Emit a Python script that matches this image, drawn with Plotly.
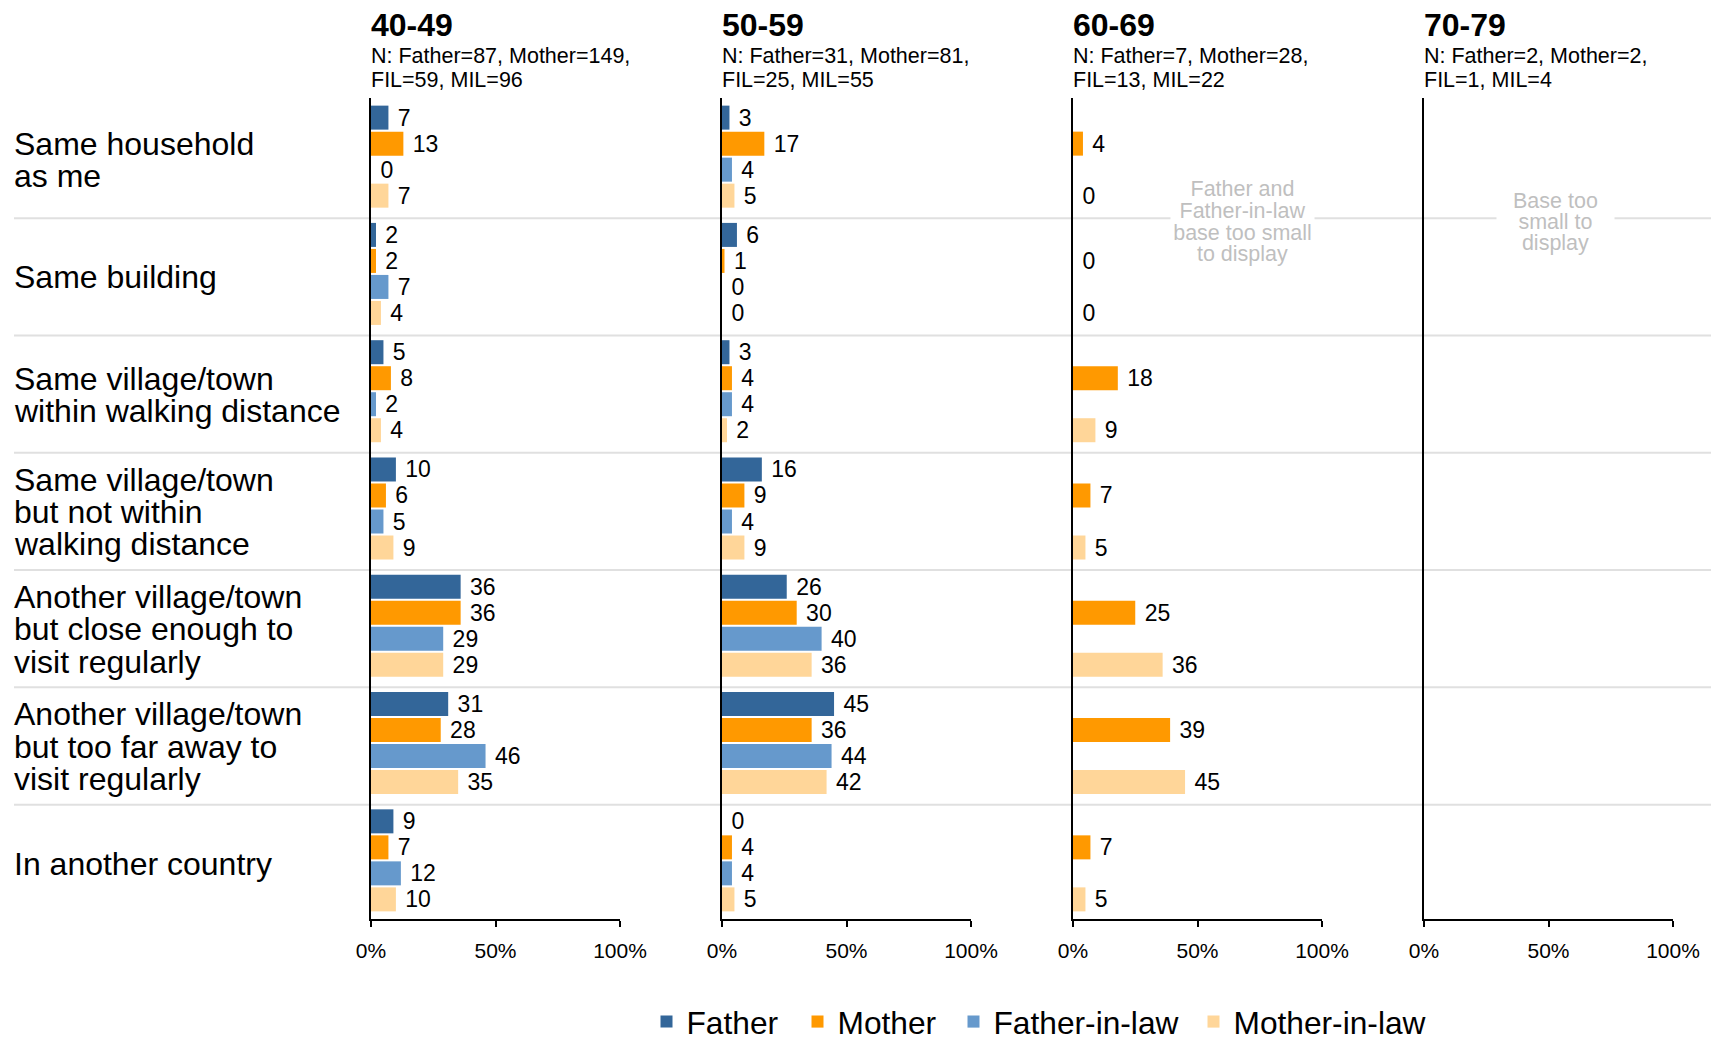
import plotly.graph_objects as go

# ---------------- data ----------------
categories = [
    "Same household<br>as me",
    "Same building",
    "Same village/town<br>within walking distance",
    "Same village/town<br>but not within<br>walking distance",
    "Another village/town<br>but close enough to<br>visit regularly",
    "Another village/town<br>but too far away to<br>visit regularly",
    "In another country",
]
series_names = ["Father", "Mother", "Father-in-law", "Mother-in-law"]
series_colors = ["#336699", "#FF9900", "#6699CC", "#FFD699"]

age_groups = ["40-49", "50-59", "60-69", "70-79"]
n_line1 = ["N: Father=87, Mother=149,", "N: Father=31, Mother=81,",
           "N: Father=7, Mother=28,", "N: Father=2, Mother=2,"]
n_line2 = ["FIL=59, MIL=96", "FIL=25, MIL=55", "FIL=13, MIL=22", "FIL=1, MIL=4"]

father_40_49 = [7, 2, 5, 10, 36, 31, 9]
mother_40_49 = [13, 2, 8, 6, 36, 28, 7]
fil_40_49 = [0, 7, 2, 5, 29, 46, 12]
mil_40_49 = [7, 4, 4, 9, 29, 35, 10]

father_50_59 = [3, 6, 3, 16, 26, 45, 0]
mother_50_59 = [17, 1, 4, 9, 30, 36, 4]
fil_50_59 = [4, 0, 4, 4, 40, 44, 4]
mil_50_59 = [5, 0, 2, 9, 36, 42, 5]

father_60_69 = [None, None, None, None, None, None, None]
mother_60_69 = [4, 0, 18, 7, 25, 39, 7]
fil_60_69 = [None, None, None, None, None, None, None]
mil_60_69 = [0, 0, 9, 5, 36, 45, 5]

father_70_79 = [None, None, None, None, None, None, None]
mother_70_79 = [None, None, None, None, None, None, None]
fil_70_79 = [None, None, None, None, None, None, None]
mil_70_79 = [None, None, None, None, None, None, None]

panel_values = [
    [father_40_49, mother_40_49, fil_40_49, mil_40_49],
    [father_50_59, mother_50_59, fil_50_59, mil_50_59],
    [father_60_69, mother_60_69, fil_60_69, mil_60_69],
    [father_70_79, mother_70_79, fil_70_79, mil_70_79],
]

note_60_69 = ["Father and", "Father-in-law", "base too small", "to display"]
note_70_79 = ["Base too", "small to", "display"]

x_tick_vals = [0, 50, 100]
x_tick_text = ["0%", "50%", "100%"]

# ---------------- layout geometry (figure pixel coords) ----------------
W, H = 1719, 1039
L, R, T, B = 363, 54, 90, 128
PW = W - L - R
PH = H - T - B
PANEL_W = 249
PANEL_STEP = 351

FONT = "Liberation Sans, Arial, Helvetica, sans-serif"


def px_x(px):
    return (px - L) / PW


fig = go.Figure()

legend_widths = [106, 111, 195, 190]

for p, vals in enumerate(panel_values):
    for s, name in enumerate(series_names):
        labels = ["" if v is None else str(v) for v in vals[s]]
        fig.add_trace(go.Bar(
            x=vals[s],
            y=categories,
            orientation="h",
            name=name,
            legendgroup=name,
            showlegend=(p == 0),
            legendwidth=legend_widths[s],
            marker=dict(color=series_colors[s], line=dict(width=0)),
            text=labels,
            texttemplate=" %{text}",
            textposition="outside",
            constraintext="none",
            cliponaxis=False,
            outsidetextfont=dict(size=23, color="black", family=FONT),
            xaxis="x" if p == 0 else f"x{p+1}",
            yaxis="y" if p == 0 else f"y{p+1}",
            hoverinfo="skip",
        ))

layout_axes = {}
for p in range(4):
    x0 = p * PANEL_STEP / PW
    x1 = (p * PANEL_STEP + PANEL_W) / PW
    xk = "xaxis" if p == 0 else f"xaxis{p+1}"
    yk = "yaxis" if p == 0 else f"yaxis{p+1}"
    ya = "y" if p == 0 else f"y{p+1}"
    xa = "x" if p == 0 else f"x{p+1}"
    layout_axes[xk] = dict(
        domain=[x0, x1], anchor=ya, range=[0, 100],
        tickmode="array", tickvals=x_tick_vals, ticktext=x_tick_text,
        showline=True, linecolor="black", linewidth=1.6,
        ticks="outside", ticklen=6, tickwidth=1.6, tickcolor="black",
        showgrid=False, zeroline=False,
        tickfont=dict(size=21, color="black", family=FONT),
        ticklabelstandoff=6,
        fixedrange=True,
    )
    layout_axes[yk] = dict(
        domain=[0, 1], anchor=xa, type="category",
        categoryorder="array", categoryarray=categories,
        range=[len(categories) - 0.5, -0.5],
        showline=True, linecolor="black", linewidth=1.6,
        showticklabels=False, ticks="", showgrid=False, zeroline=False,
        fixedrange=True,
    )

annotations = []

# row labels (category names), one line per annotation for tight line spacing
ROW_LINE = 32.3
for cat in categories:
    lines = cat.split("<br>")
    n = len(lines)
    for j, line in enumerate(lines):
        annotations.append(dict(
            text=line, xref="paper", x=px_x(3.5), xanchor="left",
            yref="y", y=cat, yanchor="middle",
            yshift=-(j - (n - 1) / 2) * ROW_LINE - 3.5,
            showarrow=False, align="left",
            font=dict(size=32, color="black", family=FONT),
        ))

# panel titles and N lines
for p, age in enumerate(age_groups):
    xa = "x" if p == 0 else f"x{p+1}"
    annotations.append(dict(
        text=f"<b>{age}</b>", xref=xa, x=0, xanchor="left", xshift=-2,
        yref="paper", y=1, yanchor="middle", yshift=72.8,
        showarrow=False, font=dict(size=32, color="black", family=FONT),
    ))
    for txt, ys in ((n_line1[p], 42.1), (n_line2[p], 17.7)):
        annotations.append(dict(
            text=txt, xref=xa, x=0, xanchor="left", xshift=-2,
            yref="paper", y=1, yanchor="middle", yshift=ys,
            showarrow=False, font=dict(size=21.5, color="black", family=FONT),
        ))

# "base too small" notes
for lines, axis_i, xpos, boxw, step in ((note_60_69, 3, 68.1, 143, 21.7),
                                        (note_70_79, 4, 53.0, 117, 21.0)):
    n = len(lines)
    for j, line in enumerate(lines):
        annotations.append(dict(
            text=line, xref=f"x{axis_i}", x=xpos, xanchor="center",
            yref=f"y{axis_i}", y=0.5, yanchor="middle",
            yshift=-(j - (n - 1) / 2) * step - 6,
            showarrow=False, bgcolor="white", width=boxw, height=25,
            borderpad=0, align="center",
            font=dict(size=21.5, color="#BFBFBF", family=FONT),
        ))

# row separator lines
shapes = []
for k in range(1, len(categories)):
    shapes.append(dict(
        type="line", xref="paper", x0=px_x(6), x1=px_x(W + 30),
        yref="y", y0=k - 0.5 + 0.025, y1=k - 0.5 + 0.025,
        line=dict(color="#E0E0E0", width=2), layer="below",
    ))

fig.update_layout(
    width=W, height=H,
    margin=dict(l=L, r=R, t=T, b=B, autoexpand=False),
    paper_bgcolor="white", plot_bgcolor="rgba(0,0,0,0)",
    barmode="group", bargap=0.113, bargroupgap=0.077,
    font=dict(family=FONT, color="black"),
    showlegend=True,
    legend=dict(
        orientation="h", x=px_x(638.5), xanchor="left",
        y=(T + PH - 1014) / PH, yanchor="middle",
        font=dict(size=31.7, color="black", family=FONT),
        traceorder="normal", bgcolor="rgba(0,0,0,0)",
    ),
    annotations=annotations,
    shapes=shapes,
    **layout_axes,
)

fig.write_html("out.html")
